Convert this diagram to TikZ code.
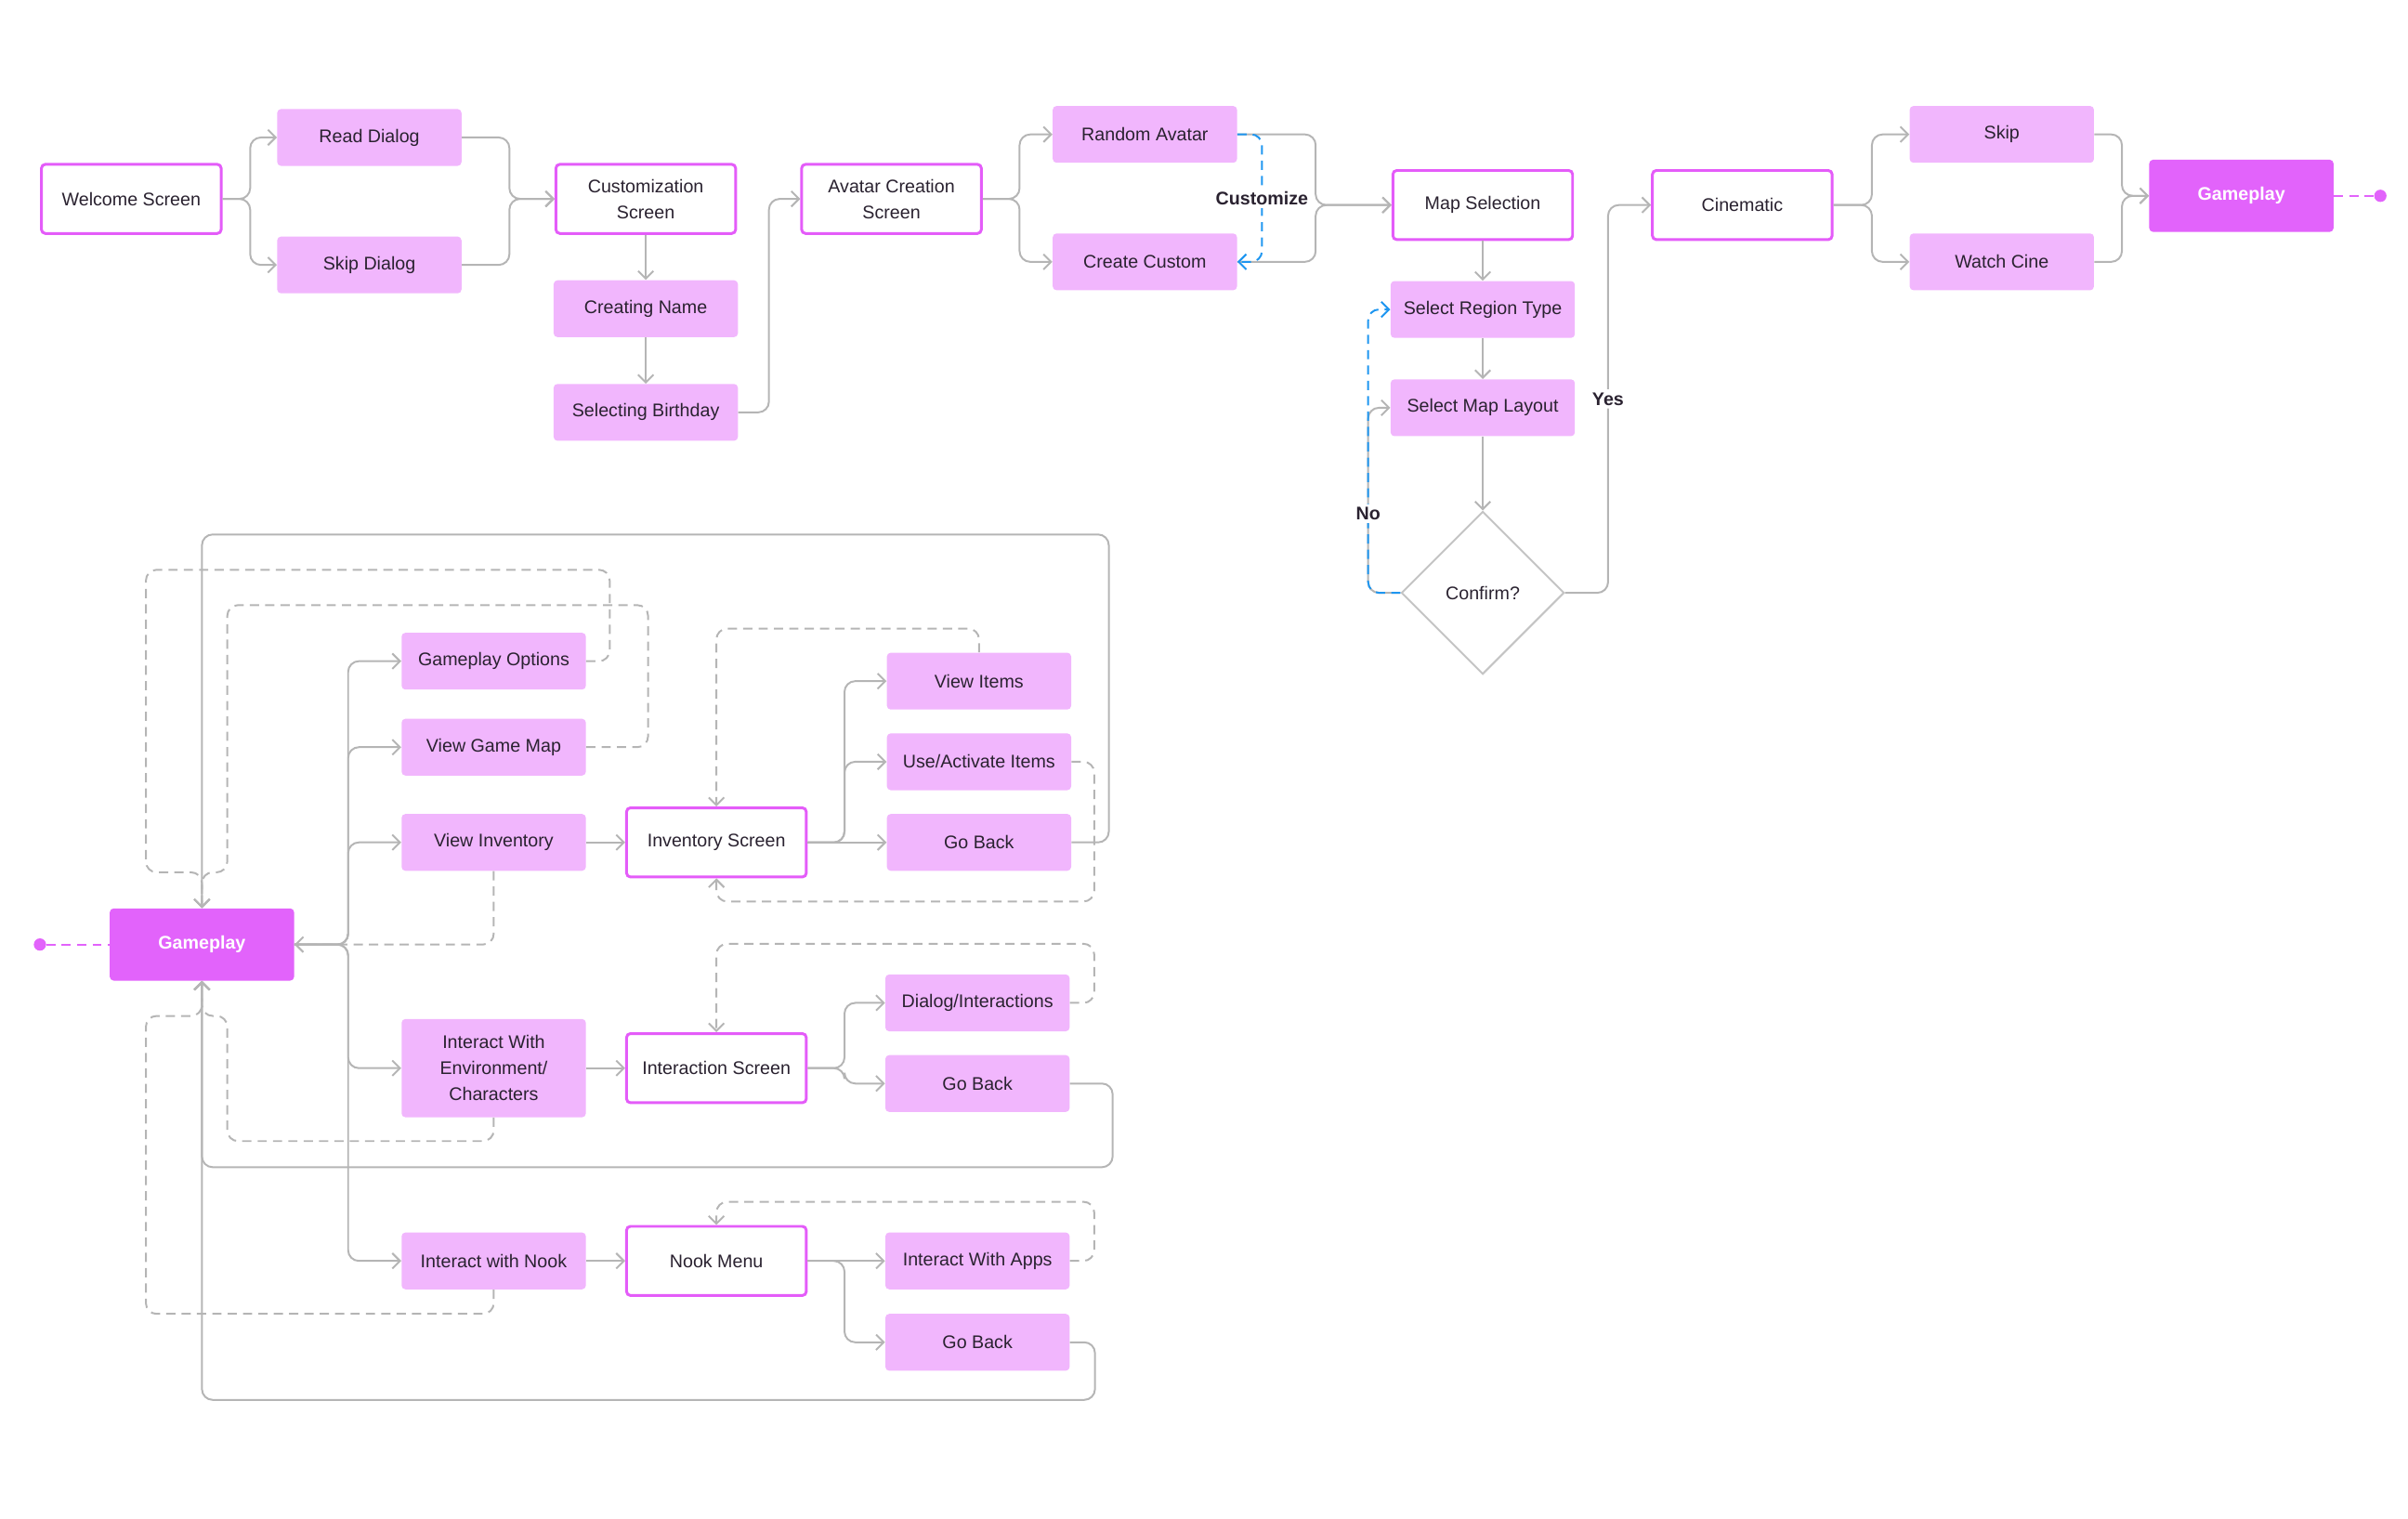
\documentclass[tikz,border=0pt]{standalone}
\usepackage{fontspec}
\setmainfont{Liberation Sans}
\usetikzlibrary{arrows.meta,shapes.geometric,positioning,calc}
\definecolor{flowPink}   {RGB}{241,182,253}
\definecolor{flowMagenta}{RGB}{226, 99,251}
\definecolor{flowEdge}   {RGB}{228, 92,249}
\definecolor{flowGray}   {RGB}{181,181,181}
\definecolor{flowBlue}   {RGB}{ 30,150,240}
\definecolor{flowText}   {RGB}{ 42, 34, 48}

\tikzset{
  box/.style={minimum width=120pt,minimum height=37pt,inner sep=2pt,align=center,
              rounded corners=2.5pt,text=flowText,font=\fontsize{11.9}{17}\selectfont},
  screen/.style={box,draw=flowEdge,line width=1.8pt,fill=white,
                 minimum width=117pt,minimum height=45pt},
  action/.style={box,fill=flowPink},
  play/.style={box,fill=flowMagenta,text=white,minimum height=47pt,
               font=\fontsize{11.9}{17}\selectfont\bfseries},
  link/.style={draw=flowGray,line width=1.2pt,rounded corners=7pt,
               -{Straight Barb[length=5pt,width=10pt]}},
  back/.style={link,dash pattern=on 6pt off 4pt},
  pick/.style={link,draw=flowBlue,dash pattern=on 6pt off 4pt},
  entry/.style={draw=flowMagenta,line width=1.2pt,dash pattern=on 6pt off 4pt},
  tag/.style={fill=white,inner sep=2pt,text=flowText,
              font=\fontsize{11.9}{14}\selectfont\bfseries},
  pin/.style={circle,fill=flowMagenta,minimum size=8pt,inner sep=0pt}
}

\begin{document}
\begin{tikzpicture}[x=1pt,y=-1pt]
    \useasboundingbox (0,0) rectangle (1568,989);

    % ── ONBOARDING ─────────────────────────────────────────
    \foreach \n/\x/\y/\t in {welcome/85.5/129.5/Welcome Screen,
                             custom/420.5/129.5/Customization\\Screen,
                             avatar/580.5/129.5/Avatar Creation\\Screen,
                             mapsel/965.5/133.5/Map Selection,
                             cine/1134.5/133.5/Cinematic}
      \node[screen] (\n) at (\x,\y) {\t};
    \foreach \n/\x/\y/\t in {readdlg/240.5/89.5/Read Dialog,
                             skipdlg/240.5/172.5/Skip Dialog,
                             name/420.5/201/Creating Name,
                             birthday/420.5/268.5/Selecting Birthday,
                             random/745.5/87.5/Random Avatar,
                             create/745.5/170.5/Create Custom,
                             region/965.5/201.5/Select Region Type,
                             layout/965.5/265.5/Select Map Layout,
                             skip/1303.5/87.5/Skip,
                             watch/1303.5/170.5/Watch Cine}
      \node[action] (\n) at (\x,\y) {\t};
    \node[diamond,aspect=1,draw=flowGray!80,line width=1.2pt,minimum width=106pt,
          minimum height=106pt,inner sep=0pt,text=flowText,
          font=\fontsize{11.9}{14}\selectfont] (confirm) at (965.5,386) {Confirm?};
    \node[play] (playtop) at (1459.5,127.5) {Gameplay};
    \node[pin] (topdot) at (1550,127.5) {};

    \foreach \a/\b/\d in {welcome/readdlg/18, welcome/skipdlg/18,
                          readdlg/custom/31, skipdlg/custom/31,
                          birthday/avatar/20,
                          avatar/random/24, avatar/create/24,
                          random/mapsel/51, create/mapsel/51,
                          cine/skip/25, cine/watch/25,
                          skip/playtop/18, watch/playtop/18}
      \draw[link] (\a.east) -- ++(\d,0) |- (\b.west);
    \foreach \a/\b in {custom/name, name/birthday, mapsel/region, region/layout, layout/confirm}
      \draw[link] (\a.south) -- (\b.north);

    \draw[pick] (random.east) -- ++(16,0) |- (create.east)
      node[tag,pos=0.25] {Customize};
    \draw[link] (confirm.east) -- ++(28,0) |- (cine.west)
      node[tag,pos=0.25] {Yes};
    \draw[link] (confirm.west) -- ++(-21,0) |- (layout.west);
    \draw[pick] (confirm.west) -- ++(-21,0) |- (region.west)
      node[tag,pos=0.14] {No};
    \draw[entry] (playtop.east) -- (topdot);

    % ── GAMEPLAY MENU ──────────────────────────────────────
    \node[play] (playleft) at (131.5,615) {Gameplay};
    \node[pin] (leftdot) at (26,615) {};
    \foreach \n/\x/\y/\t in {invscr/466.5/548.5/Inventory Screen,
                             interscr/466.5/695.5/Interaction Screen,
                             nookmenu/466.5/821/Nook Menu}
      \node[screen] (\n) at (\x,\y) {\t};
    \foreach \n/\x/\y/\t in {options/321.5/430.5/Gameplay Options,
                             gmap/321.5/486.5/View Game Map,
                             inv/321.5/548.5/View Inventory,
                             nook/321.5/821/Interact with Nook,
                             items/637.5/443.5/View Items,
                             useitems/637.5/496/{Use/Activate Items},
                             back1/637.5/548.5/Go Back,
                             dialog/636.5/653/{Dialog/Interactions},
                             back2/636.5/705.5/Go Back,
                             apps/636.5/821/Interact With Apps,
                             back3/636.5/874/Go Back}
      \node[action] (\n) at (\x,\y) {\t};
    \node[action,minimum height=64pt] (env) at (321.5,695.5)
      {Interact With\\Environment/\\Characters};

    \draw[entry] (leftdot) -- (playleft.west);
    \foreach \b in {options,gmap,inv,env,nook}
      \draw[link] (playleft.east) -- ++(35,0) |- (\b.west);
    \foreach \a/\b in {inv/invscr, env/interscr, nook/nookmenu,
                       invscr/back1, nookmenu/apps}
      \draw[link] (\a.east) -- (\b.west);
    \foreach \a/\b in {invscr/items, invscr/useitems, interscr/dialog,
                       interscr/back2, nookmenu/back3}
      \draw[link] (\a.east) -- ++(24,0) |- (\b.west);

    % loops back into the sub screens
    \draw[back] (items.north) -- ++(0,-15.5) -| (invscr.north);
    \draw[back] (useitems.east) -| (712.5,587) -| (invscr.south);
    \draw[back] (dialog.east) -| (712.5,614.5) -| (interscr.north);
    \draw[back] (apps.east) -| (712.5,782.5) -| (nookmenu.north);

    % loops back to gameplay
    \draw[back] (options.east) -| (397,371) -| (95,568) -| (playleft.north);
    \draw[back] (gmap.east) -| (422,394) -| (148,568) -| (playleft.north);
    \draw[back] (inv.south) |- (playleft.east);
    \draw[back] (env.south) |- (148,743) -- (148,661.5) -| (playleft.south);
    \draw[back] (nook.south) |- (95,855.5) -- (95,661.5) -| (playleft.south);
    \draw[link] (back1.east) -| (722,348) -| (playleft.north);
    \draw[link] (back2.east) -| (724.5,760) -| (playleft.south);
    \draw[link] (back3.east) -| (713,911.5) -| (playleft.south);

\end{tikzpicture}
\end{document}
